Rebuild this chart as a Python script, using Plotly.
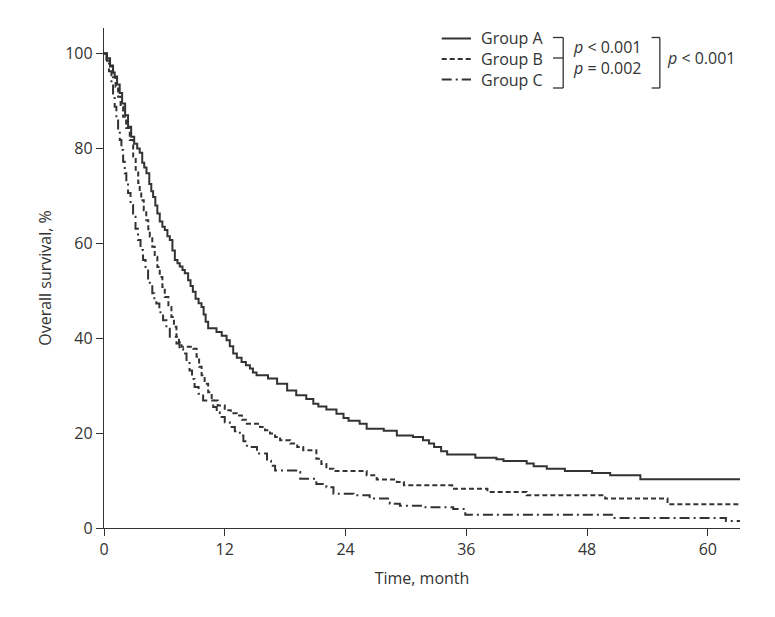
import plotly.graph_objects as go

# Kaplan-Meier step data (time in months, survival in %)
time_a = [0, 0.3, 0.6, 0.9, 1.06, 1.3, 1.56, 1.8, 2.1, 2.39, 2.7, 3.0, 3.3, 3.55, 3.8, 4.0, 4.22,
          4.5, 4.7, 4.88, 5.1, 5.3, 5.54, 5.8, 6.04, 6.3, 6.54, 6.8, 7.04, 7.3, 7.53, 7.8, 8.03,
          8.36, 8.6, 8.83, 9.1, 9.4, 9.69, 9.9, 10.1, 10.35, 11.18, 11.7, 12.18, 12.5, 12.84, 13.2,
          13.67, 14.1, 14.5, 14.8, 15.16, 16.3, 17.2, 18.2, 19.1, 20.1, 20.8, 21.3, 22.1, 23.1,
          23.8, 24.3, 25.4, 26.1, 27.8, 29.1, 30.7, 31.7, 32.3, 32.8, 33.5, 34.1, 36.9, 39.0, 39.7,
          42.0, 42.7, 44.0, 45.8, 48.5, 50.3, 53.3, 63.3]
surv_a = [100, 99, 97.5, 96, 95.2, 93.5, 91.7, 89.5, 87, 84.6, 82.5, 81, 80, 79.1, 77, 76, 74.8,
          72.5, 71, 69.8, 68, 66.3, 64.6, 63.5, 62.8, 61.5, 60.7, 58.5, 56.5, 55.8, 55.1, 54.4, 53.7,
          52.2, 51, 49.8, 48.3, 47.4, 46.6, 45, 43.5, 42.1, 41.3, 40.5, 39.6, 38.3, 36.8, 35.9,
          35.0, 34.3, 33.6, 32.8, 32.2, 31.5, 30.4, 29.0, 28.0, 27.2, 26.2, 25.6, 25.0, 24.1,
          23.2, 22.6, 22.0, 20.9, 20.5, 19.5, 19.2, 18.5, 17.8, 17.1, 16.2, 15.5, 14.8, 14.5, 14.1,
          13.6, 13.0, 12.5, 12.0, 11.6, 11.1, 10.3, 10.3]

time_b = [0, 0.3, 0.6, 0.9, 1.15, 1.4, 1.65, 1.9, 2.2, 2.56, 2.9, 3.15, 3.4, 3.55, 3.7, 3.95, 4.2,
          4.4, 4.55, 4.8, 5.04, 5.3, 5.54, 5.8, 6.04, 6.4, 6.7, 6.95, 7.2, 7.45, 7.7, 8.86, 9.2,
          9.45, 9.7, 10.0, 10.35, 10.7, 11.3, 12.0, 12.6, 13.2, 13.7, 14.2, 15.5, 16.0, 16.5, 17.0,
          17.5, 18.5, 19.2, 19.8, 21.1, 21.6, 22.1, 22.8, 26.1, 27.1, 29.1, 29.8, 34.6, 38.1,
          42.0, 49.8, 56.0, 63.3]
surv_b = [100, 98.5, 97.3, 95, 93, 90.9, 88.8, 86.7, 84.3, 81.8, 78.3, 75.5, 72.7, 70.9, 69.1, 67, 64.9,
          63, 61.4, 59.3, 57.2, 55, 52.9, 50.8, 48.7, 46.6, 44.5, 42.4, 40.3, 39.2, 38.2, 37.8, 36.1,
          34, 32.2, 30.4, 28.6, 26.9, 25.8, 24.8, 24.2, 23.7, 22.8, 22.0, 21.3, 20.6, 19.9, 19.2,
          18.5, 17.8, 17.1, 16.4, 14.6, 13.5, 12.5, 12.0, 11.1, 10.2, 9.7, 9.0, 8.3, 7.6,
          6.9, 6.2, 5.0, 5.0]

time_c = [0, 0.24, 0.5, 0.74, 0.9, 1.06, 1.23, 1.4, 1.57, 1.73, 1.9, 2.06, 2.22, 2.39, 2.64, 2.89,
          3.13, 3.38, 3.63, 3.88, 4.13, 4.38, 4.55, 4.8, 5.0, 5.2, 5.5, 5.87, 6.2, 6.54, 7.2, 7.5,
          7.86, 8.2, 8.5, 8.75, 9.0, 9.4, 9.85, 10.85, 11.2, 11.5, 12.0, 12.5, 13.0, 13.5, 13.85,
          14.2, 15.2, 16.2, 16.6, 17.0, 19.1, 19.5, 21.1, 22.1, 22.8, 24.8, 26.4, 28.4, 29.4, 31.7,
          34.7, 35.9, 50.6, 61.8, 63.3]
surv_c = [100, 98.7, 96.3, 93.8, 91.3, 88.8, 86.3, 83.9, 81.8, 79.7, 77.2, 74.8, 72.7, 70.6, 68.1, 65.6,
          63.1, 60.7, 58.6, 56.5, 54.3, 52.2, 51.2, 49.5, 48.2, 47.3, 45.5, 43.8, 42, 40.3, 38.9, 37.8,
          36.8, 35, 33.2, 31.4, 29.7, 28.3, 26.9, 25.5, 24.4, 23.4, 22.3, 21.3, 20.4, 19.5, 18.3,
          17.1, 15.7, 14.2, 13.1, 12.1, 11.8, 10.4, 9.3, 8.6, 7.2, 6.9, 6.2, 5.1, 4.7, 4.4,
          4.0, 2.8, 2.1, 1.5, 1.5]

x_ticks = [0, 12, 24, 36, 48, 60]
y_ticks = [0, 20, 40, 60, 80, 100]
group_names = ["Group A", "Group B", "Group C"]
p_pair_labels = ["<i>p</i> &lt; 0.001", "<i>p</i> = 0.002"]
p_overall_label = "<i>p</i> &lt; 0.001"

LINE_COLOR = "#333333"
TEXT_COLOR = "#333333"
FONT = "Open Sans"
dashes = ["solid", "5px,3px", "10px,4px,2px,4px"]

fig = go.Figure()
for t, s, name, d in zip([time_a, time_b, time_c], [surv_a, surv_b, surv_c], group_names, dashes):
    fig.add_trace(go.Scatter(x=t, y=s, mode="lines", name=name, line_shape="hv",
                             line=dict(color=LINE_COLOR, width=2, dash=d), showlegend=False))

shapes = []
annotations = []
tfont = dict(size=16, color=TEXT_COLOR, family=FONT)
# custom legend: line samples + one multi-line label block
leg_y = [0.979, 0.938, 0.897]
for d, yy in zip(dashes, leg_y):
    shapes.append(dict(type="line", xref="paper", yref="paper", x0=0.531, x1=0.577, y0=yy, y1=yy,
                       line=dict(color=LINE_COLOR, width=2, dash=d)))
annotations.append(dict(xref="paper", yref="paper", x=0.589, y=0.938, text="<br>".join(group_names),
                        showarrow=False, xanchor="left", yanchor="middle", align="left", font=tfont))

# bracket 1 (pairwise comparisons)
bx0, bx1 = 0.706, 0.722
by_top, by_mid, by_bot = 0.981, 0.940, 0.880
bl = dict(color=LINE_COLOR, width=1.3)
for y0, y1, x0, x1 in [(by_top, by_top, bx0, bx1), (by_mid, by_mid, bx0, bx1), (by_bot, by_bot, bx0, bx1),
                       (by_top, by_bot, bx1, bx1)]:
    shapes.append(dict(type="line", xref="paper", yref="paper", x0=x0, x1=x1, y0=y0, y1=y1, line=bl))
annotations.append(dict(xref="paper", yref="paper", x=0.735, y=0.941, text="<br>".join(p_pair_labels),
                        showarrow=False, xanchor="left", yanchor="middle", align="left", font=tfont))

# bracket 2 (overall comparison)
cx0, cx1 = 0.861, 0.874
for y0, y1, x0, x1 in [(by_top, by_top, cx0, cx1), (by_bot, by_bot, cx0, cx1), (by_top, by_bot, cx1, cx1)]:
    shapes.append(dict(type="line", xref="paper", yref="paper", x0=x0, x1=x1, y0=y0, y1=y1, line=bl))
annotations.append(dict(xref="paper", yref="paper", x=0.882, y=0.940, text=p_overall_label, showarrow=False,
                        xanchor="left", yanchor="middle", font=tfont))

# the page body has an 8px margin, so the figure is drawn 8px in from the top-left corner
fig.update_layout(
    width=767, height=609,
    margin=dict(l=96, r=35, t=20, b=89),
    paper_bgcolor="white", plot_bgcolor="white",
    font=dict(family=FONT, size=16, color=TEXT_COLOR),
    shapes=shapes, annotations=annotations,
    xaxis=dict(range=[0, 63.2], tickvals=x_ticks, ticktext=[str(v) for v in x_ticks],
               showline=True, linecolor=LINE_COLOR, linewidth=1.3, ticks="outside", ticklen=7,
               tickcolor=LINE_COLOR, tickwidth=1.3, showgrid=False, zeroline=False, automargin=False,
               title=dict(text="Time, month", font=dict(size=16, color=TEXT_COLOR), standoff=13)),
    yaxis=dict(range=[0, 105.4], tickvals=y_ticks, ticktext=[str(v) for v in y_ticks],
               showline=True, linecolor=LINE_COLOR, linewidth=1.3, ticks="outside", ticklen=7,
               tickcolor=LINE_COLOR, tickwidth=1.3, showgrid=False, zeroline=False, automargin=False,
               title=dict(text="Overall survival, %", font=dict(size=16, color=TEXT_COLOR), standoff=9)),
)

fig.write_html("out.html")
